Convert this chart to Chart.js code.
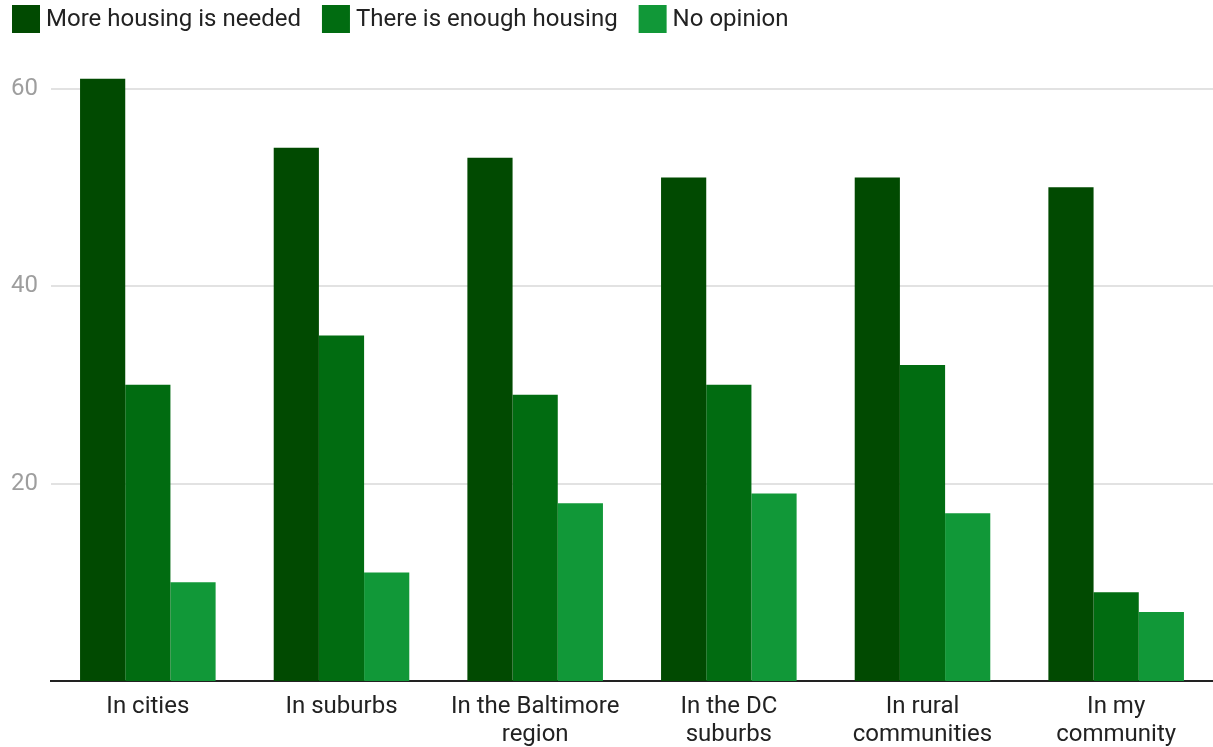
<!DOCTYPE html>
<html>
<head>
<meta charset="utf-8">
<script src="https://cdn.jsdelivr.net/npm/chart.js@4/dist/chart.umd.min.js"></script>
<style>
  html, body { margin: 0; padding: 0; background: #ffffff; }
  #wrap { width: 1213px; height: 747px; position: relative; }
</style>
</head>
<body>
<div id="wrap"><canvas id="c"></canvas></div>
<script>
// Survey categories (multi-line labels as arrays)
const categories = [
  "In cities",
  "In suburbs",
  ["In the Baltimore", "region"],
  ["In the DC", "suburbs"],
  ["In rural", "communities"],
  ["In my", "community"]
];
const seriesNames = ["More housing is needed", "There is enough housing", "No opinion"];
const moreNeeded = [61, 54, 53, 51, 51, 50];
const enoughHousing = [30, 35, 29, 30, 32, 9];
const noOpinion = [10, 11, 18, 19, 17, 7];
const yTicks = [20, 40, 60];

const colors = ["#014a01", "#016c11", "#119838"];

// Compact legend drawn across the top, left-aligned
const topLegend = {
  id: "topLegend",
  afterDraw(chart) {
    const ctx = chart.ctx;
    ctx.save();
    ctx.font = "24px Roboto";
    ctx.textBaseline = "middle";
    ctx.textAlign = "left";
    let x = 12;
    const boxTop = 5, box = 28, cy = 19;
    chart.data.datasets.forEach(ds => {
      ctx.fillStyle = ds.backgroundColor;
      ctx.fillRect(x, boxTop, box, box);
      ctx.fillStyle = "#222222";
      const tx = x + box + 6;
      ctx.fillText(ds.label, tx, cy + 1);
      x = tx + ctx.measureText(ds.label).width + 21;
    });
    ctx.restore();
  }
};

new Chart(document.getElementById("c"), {
  type: "bar",
  data: {
    labels: categories,
    datasets: [
      { label: seriesNames[0], data: moreNeeded, backgroundColor: colors[0] },
      { label: seriesNames[1], data: enoughHousing, backgroundColor: colors[1] },
      { label: seriesNames[2], data: noOpinion, backgroundColor: colors[2] }
    ]
  },
  plugins: [topLegend],
  options: {
    responsive: true,
    maintainAspectRatio: false,
    animation: false,
    layout: { padding: { left: 0, right: 0, top: 49, bottom: 0 } },
    datasets: { bar: { categoryPercentage: 0.7, barPercentage: 1.0 } },
    plugins: {
      legend: { display: false },
      tooltip: { enabled: false }
    },
    scales: {
      x: {
        afterFit: (axis) => { axis.height = 66; },
        grid: { display: false },
        border: { display: true, color: "#222222", width: 2 },
        ticks: {
          color: "#222222",
          font: { family: "Roboto", size: 24, lineHeight: 1.16 },
          maxRotation: 0,
          autoSkip: false,
          padding: 4
        }
      },
      y: {
        min: 0,
        max: 64,
        afterFit: (axis) => { axis.width = 51; },
        afterBuildTicks: (axis) => { axis.ticks = yTicks.map(v => ({ value: v })); },
        grid: { color: "#e2e2e2", lineWidth: 2, drawTicks: false },
        border: { display: false },
        ticks: {
          color: "#9e9e9e",
          font: { family: "Roboto", size: 24 },
          padding: 13
        }
      }
    }
  }
});
</script>
</body>
</html>
